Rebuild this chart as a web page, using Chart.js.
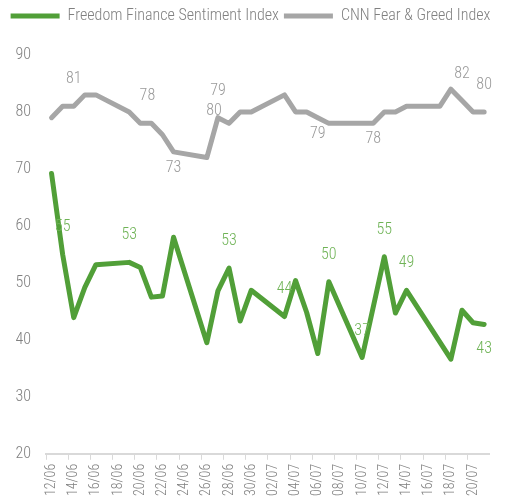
<!DOCTYPE html>
<html>
<head>
<meta charset="utf-8">
<script src="https://cdn.jsdelivr.net/npm/chart.js@4.4.1/dist/chart.umd.min.js"></script>
<style>
  html, body { margin: 0; background: #fff; }
  #wrap { width: 505px; height: 502px; }
</style>
</head>
<body>
<div id="wrap"><canvas id="chart"></canvas></div>
<script>
// days on the axis (one slot per day)
const days = [
  '12/06', '13/06', '14/06', '15/06', '16/06', '17/06', '18/06', '19/06', '20/06', '21/06',
  '22/06', '23/06', '24/06', '25/06', '26/06', '27/06', '28/06', '29/06', '30/06', '01/07',
  '02/07', '03/07', '04/07', '05/07', '06/07', '07/07', '08/07', '09/07', '10/07', '11/07',
  '12/07', '13/07', '14/07', '15/07', '16/07', '17/07', '18/07', '19/07', '20/07', '21/07'
];

// Freedom Finance Sentiment Index (null = no reading that day)
const freedom = [
  69.2, 55, 43.9, 49.2, 53.2, null, null, 53.6, 52.7, 47.5,
  47.7, 58, null, null, 39.5, 48.6, 52.6, 43.3, 48.7, null,
  null, 44.1, 50.4, 44.8, 37.6, 50.2, null, null, 36.9, null,
  54.6, 44.7, 48.7, null, null, null, 36.6, 45.2, 43, 42.7
];

// CNN Fear & Greed Index
const cnn = [
  79, 81, 81, 83, 83, null, null, 80, 78, 78,
  76, 73, null, null, 72, 79, 78, 80, 80, null,
  null, 83, 80, 80, 79, 78, null, null, null, 78,
  80, 80, 81, null, null, 81, 84, 82, 80, 80
];

// value labels shown on the chart: [day index, text, placement]
const freedomLabels = [
  [1, '55', 'above'], [7, '53', 'above'], [16, '53', 'above'], [21, '44', 'above'],
  [25, '50', 'above'], [28, '37', 'above'], [30, '55', 'above'], [32, '49', 'above'],
  [39, '43', 'below']
];
const cnnLabels = [
  [2, '81', 'above'], [9, '78', 'above'], [11, '73', 'below'], [15, '79', 'above'],
  [15, '80', 'near'], [24, '79', 'below'], [29, '78', 'below'], [37, '82', 'above'],
  [39, '80', 'above']
];

const GREEN = '#519f38';
const GREY = '#a6a6a6';
const FONT = '"Roboto Condensed", Roboto, sans-serif';

const labelPlugin = {
  id: 'valueLabels',
  afterDatasetsDraw(chart) {
    const ctx = chart.ctx;
    const sets = [
      { ds: 0, items: freedomLabels, color: '#6fb356' },
      { ds: 1, items: cnnLabels, color: '#999999' }
    ];
    ctx.save();
    ctx.font = '300 16px ' + FONT;
    ctx.textAlign = 'center';
    ctx.textBaseline = 'middle';
    sets.forEach(set => {
      const meta = chart.getDatasetMeta(set.ds);
      ctx.fillStyle = set.color;
      set.items.forEach(([i, text, where]) => {
        const p = meta.data[i];
        let dx = 0, dy = -27;
        if (where === 'below') dy = set.ds === 0 ? 25 : 16;
        if (where === 'near') { dx = -4; dy = -7; }
        if (set.ds === 1 && i === 9) dx = -4;
        ctx.fillText(text, p.x + dx, p.y + dy);
      });
    });
    ctx.restore();
  }
};

// extra room under the legend
const legendGap = {
  id: 'legendGap',
  beforeInit(chart) {
    const fit = chart.legend.fit;
    chart.legend.fit = function () {
      fit.call(this);
      this.height += 21;
    };
  }
};

new Chart(document.getElementById('chart'), {
  type: 'line',
  data: {
    labels: days,
    datasets: [
      {
        label: 'Freedom Finance Sentiment Index',
        data: freedom,
        borderColor: GREEN,
        backgroundColor: GREEN,
        borderWidth: 5,
        borderJoinStyle: 'round',
        borderCapStyle: 'round',
        pointRadius: 0,
        tension: 0,
        spanGaps: true
      },
      {
        label: 'CNN Fear & Greed Index',
        data: cnn,
        borderColor: GREY,
        backgroundColor: GREY,
        borderWidth: 5,
        borderJoinStyle: 'round',
        borderCapStyle: 'round',
        pointRadius: 0,
        tension: 0,
        spanGaps: true
      }
    ]
  },
  options: {
    responsive: true,
    maintainAspectRatio: false,
    animation: false,
    layout: { padding: { left: 0, right: 4, top: 3, bottom: 2 } },
    plugins: {
      legend: {
        position: 'top',
        labels: {
          usePointStyle: true,
          pointStyle: 'line',
          pointStyleWidth: 49,
          color: '#808080',
          font: { family: FONT, size: 16, weight: '300' },
          padding: 5
        }
      },
      tooltip: { enabled: false }
    },
    scales: {
      x: {
        type: 'category',
        offset: true,
        grid: {
          display: true,
          drawOnChartArea: false,
          drawTicks: true,
          tickLength: 6,
          offset: true,
          color: c => (c.index % 2 === 0 ? '#d9d9d9' : 'rgba(0,0,0,0)')
        },
        border: { display: true, color: '#d9d9d9', width: 2 },
        ticks: {
          autoSkip: false,
          maxRotation: 90,
          minRotation: 90,
          padding: 4,
          color: '#808080',
          font: { family: FONT, size: 14, weight: '300' },
          callback: (v, i) => (i % 2 === 0 ? days[i] : '')
        }
      },
      y: {
        min: 20,
        max: 90,
        afterFit: scale => { scale.width = 46; },
        grid: { display: false, drawTicks: false },
        border: { display: false },
        ticks: {
          stepSize: 10,
          padding: 15,
          color: '#808080',
          font: { family: FONT, size: 16, weight: '300' }
        }
      }
    }
  },
  plugins: [labelPlugin, legendGap]
});
</script>
</body>
</html>
